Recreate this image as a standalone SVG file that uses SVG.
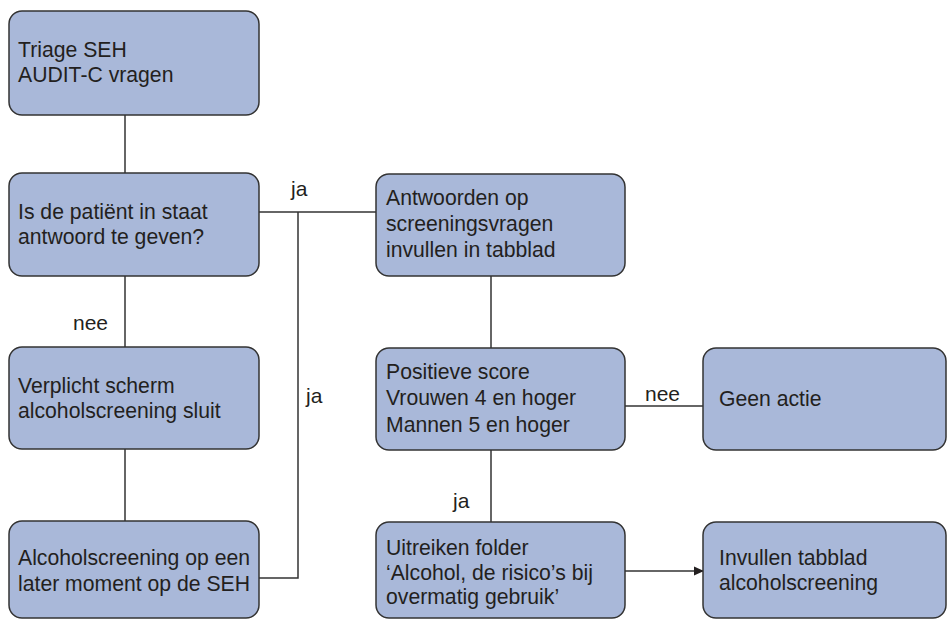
<svg xmlns="http://www.w3.org/2000/svg" width="947" height="620" viewBox="0 0 947 620">
<style>
.box{fill:#a9b8d9;stroke:#333;stroke-width:1.5}
.t{font-family:"Liberation Sans",Arial,sans-serif;font-size:21.2px;fill:#231f20}
.l{font-family:"Liberation Sans",Arial,sans-serif;font-size:21px;fill:#231f20}
.c{stroke:#333;stroke-width:1.5;fill:none}
</style>
<defs>
<marker id="ah" markerWidth="10" markerHeight="10" refX="9" refY="5" orient="auto" markerUnits="userSpaceOnUse">
<path d="M0,0.5 L10,5 L0,9.5 Z" fill="#231f20"/>
</marker>
</defs>
<g id="connectors">
<line class="c" x1="125" y1="115" x2="125" y2="174"/>
<line class="c" x1="125" y1="276" x2="125" y2="347"/>
<line class="c" x1="125" y1="449" x2="125" y2="521"/>
<line class="c" x1="259" y1="212" x2="376" y2="212"/>
<polyline class="c" points="298,212 298,578 259,578"/>
<line class="c" x1="491" y1="276" x2="491" y2="348"/>
<line class="c" x1="625" y1="406" x2="703" y2="406"/>
<line class="c" x1="491" y1="450" x2="491" y2="522"/>
<line class="c" x1="625" y1="571" x2="703" y2="571" marker-end="url(#ah)"/>
<text class="l" x="291" y="196">ja</text>
<text class="l" x="306" y="403">ja</text>
<text class="l" x="73" y="330">nee</text>
<text class="l" x="645" y="401">nee</text>
<text class="l" x="453" y="508">ja</text>
</g>
<g id="n1"><rect class="box" x="9" y="11" width="250" height="104" rx="13"/>
<text class="t" x="18" y="57">Triage SEH</text><text class="t" x="18" y="82">AUDIT-C vragen</text></g>
<g id="n2"><rect class="box" x="9" y="173" width="250" height="103" rx="13"/>
<text class="t" x="18" y="219">Is de patiënt in staat</text><text class="t" x="18" y="244">antwoord te geven?</text></g>
<g id="n3"><rect class="box" x="9" y="347" width="250" height="102" rx="13"/>
<text class="t" x="18" y="393">Verplicht scherm</text><text class="t" x="18" y="418">alcoholscreening sluit</text></g>
<g id="n4"><rect class="box" x="9" y="521" width="250" height="97" rx="13"/>
<text class="t" x="18" y="565">Alcoholscreening op een</text><text class="t" x="18" y="591">later moment op de SEH</text></g>
<g id="n5"><rect class="box" x="376" y="174" width="249" height="102" rx="13"/>
<text class="t" x="386" y="205">Antwoorden op</text><text class="t" x="386" y="231">screeningsvragen</text><text class="t" x="386" y="257">invullen in tabblad</text></g>
<g id="n6"><rect class="box" x="376" y="348" width="249" height="102" rx="13"/>
<text class="t" x="386" y="379">Positieve score</text><text class="t" x="386" y="405">Vrouwen 4 en hoger</text><text class="t" x="386" y="432">Mannen 5 en hoger</text></g>
<g id="n7"><rect class="box" x="703" y="348" width="243" height="102" rx="13"/>
<text class="t" x="719" y="406">Geen actie</text></g>
<g id="n8"><rect class="box" x="376" y="522" width="249" height="96" rx="13"/>
<text class="t" x="386" y="555">Uitreiken folder</text><text class="t" x="386" y="580">‘Alcohol, de risico’s bij</text><text class="t" x="386" y="604">overmatig gebruik’</text></g>
<g id="n9"><rect class="box" x="703" y="522" width="243" height="96" rx="13"/>
<text class="t" x="719" y="565">Invullen tabblad</text><text class="t" x="719" y="590">alcoholscreening</text></g>
</svg>
